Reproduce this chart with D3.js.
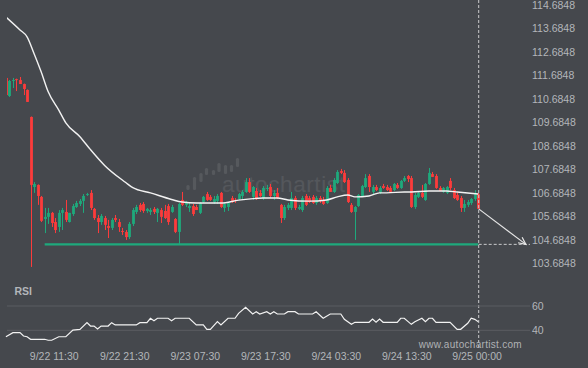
<!DOCTYPE html>
<html><head><meta charset="utf-8">
<script src="https://cdn.jsdelivr.net/npm/d3@7"></script>
<style>
html,body{margin:0;padding:0;background:#45484d;}
svg{display:block;}
text{font-family:"Liberation Sans",Arial,Helvetica,sans-serif;}
</style></head><body>
<svg id="c" width="588" height="368"></svg>
<script>
// ---------- data (30-minute candles starting 2025-09-22 05:00) ----------
const startTime = Date.UTC(2025, 8, 22, 5, 0);
const opens = [111.57,110.80,111.44,111.52,111.48,111.31,111.06,109.91,106.93,107.02,106.51,105.57,105.66,105.83,105.44,105.23,105.83,105.87,105.44,105.78,106.08,106.21,106.34,106.59,106.68,106.00,105.61,105.44,105.61,105.27,105.19,105.61,105.44,105.06,105.02,104.80,105.36,105.87,106.17,106.21,105.91,105.87,106.00,105.83,105.95,105.91,106.12,105.87,105.57,105.02,106.38,106.17,106.04,106.12,106.08,105.83,106.29,106.63,106.51,106.29,106.34,106.68,106.04,106.08,106.46,106.38,106.42,106.55,106.72,107.14,106.51,106.76,106.68,106.46,106.85,106.93,106.55,106.68,106.17,105.61,106.04,106.04,106.46,106.00,105.95,106.55,106.46,106.51,106.25,106.46,106.38,106.25,106.89,106.72,107.10,107.61,107.53,107.23,106.17,105.87,106.12,106.55,106.93,107.40,106.72,106.93,106.68,106.97,106.93,106.89,106.80,107.02,106.89,107.19,107.40,107.31,106.08,106.51,106.68,106.38,107.06,107.48,107.40,106.89,106.72,106.68,107.19,106.80,106.59,106.46,106.04,106.17,106.25,106.42,106.63];
const highs = [111.61,111.48,111.57,111.54,111.61,111.33,111.08,109.93,107.14,107.04,106.55,106.04,106.04,105.87,105.61,105.95,106.04,106.38,105.83,106.21,106.34,106.42,106.63,106.68,106.80,106.04,105.74,105.78,105.70,105.53,105.61,105.74,105.57,105.19,105.10,105.44,106.04,106.17,106.25,106.29,106.04,106.04,106.08,106.04,106.04,106.17,106.21,106.17,105.61,106.25,106.72,106.34,106.25,106.21,106.17,106.29,106.55,106.72,106.59,106.55,106.63,106.72,106.25,106.29,106.55,106.46,106.68,106.80,107.31,107.31,106.97,106.89,106.80,106.97,107.02,107.06,106.80,106.89,106.21,106.17,106.25,106.72,106.55,106.17,106.55,106.63,106.55,106.59,106.55,106.55,106.51,106.97,107.02,107.31,107.65,107.70,107.65,107.31,106.25,106.12,106.63,107.02,107.48,107.48,107.02,107.02,106.97,107.06,107.02,106.97,107.10,107.10,107.23,107.40,107.44,107.40,106.68,106.72,107.02,107.10,107.74,107.57,107.48,106.97,106.93,106.97,107.31,106.89,106.68,106.55,106.38,106.38,106.46,106.80,106.68];
const lows = [110.76,110.76,111.14,111.01,111.31,110.84,110.55,103.53,106.68,106.17,105.44,104.97,105.36,105.23,104.97,105.02,105.10,105.44,105.42,105.70,106.04,106.12,105.83,106.55,105.95,105.53,104.97,105.32,105.10,104.76,105.10,105.44,105.02,104.89,104.68,104.72,105.27,105.78,105.87,105.83,105.83,105.74,105.78,105.44,105.40,105.57,105.32,105.83,104.97,104.51,106.12,106.08,105.87,105.70,105.95,105.78,106.25,106.34,106.34,106.21,106.21,106.04,105.87,105.91,106.25,106.25,106.38,106.42,106.68,106.68,106.38,106.38,106.51,106.38,106.76,106.46,106.38,106.42,105.40,105.53,105.95,105.95,105.95,105.95,105.87,106.12,106.25,106.21,106.17,106.25,106.17,106.21,106.72,106.68,107.06,107.48,107.10,106.25,105.83,104.68,106.08,106.51,106.89,106.72,106.63,106.76,106.63,106.85,106.76,106.68,106.76,106.85,106.85,107.14,107.14,106.04,106.00,106.46,106.46,106.34,107.02,107.36,106.85,106.76,106.68,106.63,106.80,106.42,106.34,105.87,105.87,106.08,106.17,106.34,106.00];
const closes = [110.84,111.44,111.48,111.48,111.31,111.10,110.55,107.02,107.06,106.55,105.49,105.66,105.83,105.40,105.10,105.83,105.95,105.53,105.83,106.12,106.25,106.34,106.55,106.63,106.04,105.61,105.44,105.70,105.32,105.19,105.53,105.53,105.23,105.02,104.80,105.36,105.95,106.08,105.95,105.91,106.00,105.95,105.87,106.00,105.66,105.61,105.44,106.08,105.02,106.21,106.17,106.29,106.12,105.78,105.95,106.25,106.51,106.38,106.38,106.42,106.55,106.08,106.21,106.25,106.29,106.34,106.63,106.72,107.14,106.72,106.93,106.46,106.55,106.89,106.89,106.55,106.68,106.46,105.61,106.08,106.17,106.46,106.04,106.08,106.46,106.17,106.29,106.25,106.46,106.34,106.21,106.89,106.72,107.23,107.57,107.53,107.14,106.29,105.87,106.08,106.59,106.97,107.31,106.93,106.93,106.80,106.89,106.89,106.80,106.72,107.06,106.89,107.19,107.31,107.27,106.08,106.59,106.68,106.51,107.06,107.53,107.36,106.89,106.76,106.89,106.93,106.89,106.46,106.38,106.04,106.21,106.29,106.42,106.63,106.00];

// moving average (read at candle indices)
const smaIdx  = [0,4,6,8,10,12,15,17,21,24,28,34,36,41,47,50,54,61,66,73,77,80,86,91,94,97,99,103,106,108,113,115,120,125,128,134];
const smaVals = [114.16,113.61,113.32,112.60,111.83,110.98,110.20,109.66,109.07,108.52,107.85,107.12,106.90,106.68,106.40,106.29,106.25,106.25,106.37,106.46,106.46,106.38,106.33,106.38,106.51,106.59,106.51,106.55,106.68,106.68,106.72,106.72,106.76,106.76,106.72,106.63];

// RSI (read at candle indices)
const rsiIdx  = [0,2,4,5,6,7,11,12,13,15,17,19,21,23,24,25,26,27,29,30,31,37,38,40,41,42,43,46,47,48,52,54,56,57,58,60,61,63,65,66,68,70,71,72,74,75,76,77,79,80,82,83,87,88,90,92,95,96,98,99,103,104,105,106,107,111,112,113,115,116,118,119,120,121,122,126,128,129,131,132,133,134];
const rsiVals = [34.7,38.1,38.1,35.3,34.7,32.6,32.6,31.8,31.8,34.7,34.7,40.2,40.8,46.3,43.5,43.5,41.1,43.5,43.5,46.3,44.4,44.4,46.3,46.3,49.9,47.9,49.9,49.9,47.9,49.9,49.9,44.4,44.4,40.8,40.8,47.1,44.4,49.9,49.9,54.0,58.9,53.4,55.3,53.4,55.3,53.4,55.3,53.4,53.4,55.3,55.3,53.4,53.4,55.3,49.9,53.4,53.4,49.0,44.9,46.6,46.6,49.3,46.6,49.3,46.6,46.6,49.9,49.9,44.9,47.1,49.9,47.1,49.9,49.9,46.6,46.6,40.8,40.8,45.8,49.9,49.0,47.1];
const rsiTicks = [40, 60];

const priceTicks = [103.6848,104.6848,105.6848,106.6848,107.6848,108.6848,109.6848,110.6848,111.6848,112.6848,113.6848,114.6848];
const timeTickIdx    = [13,33,53,73,93,113,134];
const timeTickLabels = ["9/22 11:30","9/22 21:30","9/23 07:30","9/23 17:30","9/24 03:30","9/24 13:30","9/25 00:00"];

const levelPrice = 104.49;     // target support level
const levelStartIdx = 11;
const forecastIdx = 147.5;     // arrow end

// ---------- drawing ----------
const t = i => new Date(startTime + i * 30 * 60000);
const svg = d3.select("#c");
const W = 588, H = 368;
const lastIdx = closes.length - 1;
const plotL = 7, plotR = 530;

const x = d3.scaleUtc().domain([t(0), t(lastIdx)]).range([5.9, 478.3]);
const y = d3.scaleLinear().domain([103.6848, 114.6848]).range([263.3, 4.7]);
const yr = d3.scaleLinear().domain([40, 60]).range([330.3, 306]);

const RED = "#fc3b3b", GREEN = "#1ea97c", TXT = "#b3b6ba";

svg.append("rect").attr("width", W).attr("height", H).attr("fill", "#45484d");

svg.append("defs").append("clipPath").attr("id", "pc")
  .append("rect").attr("x", plotL).attr("y", 0).attr("width", 482 - plotL).attr("height", 280);

// watermark
const wm = svg.append("g").attr("fill", "#ffffff").attr("opacity", 0.09);
const logoBars = [[188,185,190],[194.5,177,190],[201,173,182],[206.5,168,175],[213.5,170,175],[219,163,172],[225.5,165,174],[231.5,165,172],[237.5,158,167]];
wm.selectAll("rect").data(logoBars).join("rect")
  .attr("x", d => d[0] - 1.6).attr("width", 3.2)
  .attr("y", d => d[1]).attr("height", d => d[2] - d[1]).attr("rx", 1.5);
wm.append("text").attr("x", 222).attr("y", 191.5).attr("font-size", 22.5)
  .attr("font-family", "Lato, 'Liberation Sans', sans-serif").attr("font-weight", 300)
  .attr("letter-spacing", 0.6).attr("opacity", 0.9).text("autochartist");

// price axis labels
const ya = svg.append("g").attr("transform", `translate(532,0)`)
  .call(d3.axisRight(y).tickValues(priceTicks).tickFormat(d3.format(".4f")).tickSize(0).tickPadding(0));
ya.select(".domain").remove();
ya.selectAll("text").attr("fill", TXT).attr("font-size", 10.5).attr("font-family", "'Liberation Sans', Arial, sans-serif");

const plot = svg.append("g").attr("clip-path", "url(#pc)");

// level line
plot.append("line")
  .attr("x1", x(t(levelStartIdx))).attr("x2", x(t(lastIdx)))
  .attr("y1", y(levelPrice)).attr("y2", y(levelPrice))
  .attr("stroke", GREEN).attr("stroke-width", 2.2);

// candles
const idx = d3.range(closes.length);
const cg = plot.append("g");
cg.selectAll("line").data(idx).join("line")
  .attr("x1", i => Math.round(x(t(i))) + 0.5).attr("x2", i => Math.round(x(t(i))) + 0.5)
  .attr("y1", i => y(highs[i])).attr("y2", i => y(lows[i]))
  .attr("stroke", i => closes[i] >= opens[i] ? GREEN : RED).attr("stroke-width", 1);
cg.selectAll("rect").data(idx).join("rect")
  .attr("x", i => Math.round(x(t(i))) + 0.5 - 1.4).attr("width", 2.8)
  .attr("y", i => y(Math.max(opens[i], closes[i])))
  .attr("height", i => Math.max(1, Math.abs(y(opens[i]) - y(closes[i]))))
  .attr("fill", i => closes[i] >= opens[i] ? GREEN : RED);

// moving average
plot.append("path")
  .datum(smaIdx.map((k, j) => [k, smaVals[j]]))
  .attr("d", d3.line().x(d => x(t(d[0]))).y(d => y(d[1])).curve(d3.curveMonotoneX))
  .attr("fill", "none").attr("stroke", "#f2f2f2").attr("stroke-width", 1.4);

// "now" dashed vertical line and horizontal projection
const xNow = x(t(lastIdx)) + 0.4;
svg.append("line").attr("x1", xNow).attr("x2", xNow).attr("y1", 0).attr("y2", 350)
  .attr("stroke", "#c9cacc").attr("stroke-width", 1).attr("stroke-dasharray", "3,2");
svg.append("line").attr("x1", xNow).attr("x2", plotR).attr("y1", y(levelPrice)).attr("y2", y(levelPrice))
  .attr("stroke", "#c9cacc").attr("stroke-width", 1).attr("stroke-dasharray", "3,2");

// forecast arrow
const ax1 = xNow, ay1 = y(closes[lastIdx]);
const ax2 = x(t(forecastIdx)), ay2 = y(levelPrice);
const ang = Math.atan2(ay2 - ay1, ax2 - ax1);
const hl = 8, ha = 25 * Math.PI / 180;
const arrow = svg.append("g").attr("stroke", "#e6e6e6").attr("stroke-width", 1.2).attr("fill", "none");
arrow.append("line").attr("x1", ax1).attr("y1", ay1).attr("x2", ax2).attr("y2", ay2);
arrow.append("path").attr("d",
  `M${ax2 - hl * Math.cos(ang - ha)},${ay2 - hl * Math.sin(ang - ha)}L${ax2},${ay2}L${ax2 - hl * Math.cos(ang + ha)},${ay2 - hl * Math.sin(ang + ha)}`);

// RSI panel
svg.append("text").attr("x", 14.5).attr("y", 295).attr("font-size", 10.5).attr("font-weight", "bold")
  .attr("fill", TXT).text("RSI");
svg.append("g").selectAll("line").data(rsiTicks).join("line")
  .attr("x1", plotL).attr("x2", plotR).attr("y1", d => yr(d)).attr("y2", d => yr(d))
  .attr("stroke", "#5a5d62").attr("stroke-width", 1);
const ra = svg.append("g").attr("transform", `translate(532,0)`)
  .call(d3.axisRight(yr).tickValues(rsiTicks).tickSize(0).tickPadding(0));
ra.select(".domain").remove();
ra.selectAll("text").attr("fill", TXT).attr("font-size", 10.5).attr("font-family", "'Liberation Sans', Arial, sans-serif");
svg.append("path")
  .datum(rsiIdx.map((k, j) => [k, rsiVals[j]]))
  .attr("d", d3.line().x(d => x(t(d[0]))).y(d => yr(d[1])))
  .attr("fill", "none").attr("stroke", "#f2f2f2").attr("stroke-width", 1.2);

// time axis labels
const xa = svg.append("g").attr("transform", `translate(2,352.5)`)
  .call(d3.axisBottom(x).tickValues(timeTickIdx.map(t)).tickFormat((d, i) => timeTickLabels[i]).tickSize(0).tickPadding(0));
xa.select(".domain").remove();
xa.selectAll("text").attr("fill", TXT).attr("font-size", 10.5).attr("font-family", "'Liberation Sans', Arial, sans-serif");
xa.selectAll(".tick").each(function () {
  const txt = d3.select(this).select("text");
  const bb = this.getBBox();
  const tr = this.transform.baseVal.consolidate().matrix.e;
  const right = tr + 2 + bb.width / 2;
  if (right > 502) txt.attr("x", 502 - right);
});

// site credit
svg.append("text").attr("x", 522).attr("y", 348).attr("text-anchor", "end")
  .attr("font-size", 10).attr("letter-spacing", 0.3).attr("fill", "#b0b2b5").text("www.autochartist.com");
</script>
</body></html>
